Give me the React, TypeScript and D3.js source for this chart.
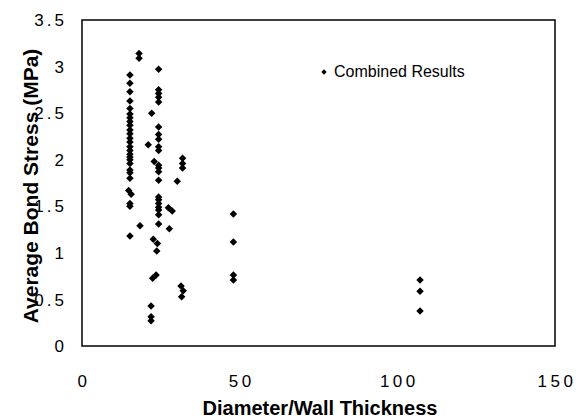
import React from "react";
import * as d3 from "d3";

const col1X = 15.2;
const col1Y = [2.91, 2.82, 2.73, 2.63, 2.55, 2.49, 2.45, 2.41, 2.37, 2.32, 2.28, 2.23, 2.19, 2.14, 2.1, 2.06, 2.03, 2.0, 1.96, 1.89, 1.86, 1.8, 1.53, 1.5, 1.18];
const col2X = 24.3;
const col2Y = [2.97, 2.75, 2.71, 2.67, 2.62, 2.35, 2.27, 2.22, 2.14, 2.1, 1.94, 1.91, 1.87, 1.78, 1.6, 1.57, 1.53, 1.49, 1.46, 1.41, 1.31];
const otherX = [14.8, 15.6, 18.1, 18.1, 18.4, 22.1, 21.0, 22.9, 22.6, 23.9, 23.7, 22.4, 23.5, 21.9, 21.9, 21.9, 31.9, 31.9, 31.9, 30.2, 27.4, 28.6, 27.7, 31.4, 32.1, 31.6, 48, 48, 48, 48, 107.2, 107.2, 107.2];
const otherY = [1.67, 1.63, 3.14, 3.09, 1.29, 2.5, 2.16, 1.98, 1.145, 1.1, 1.02, 0.727, 0.762, 0.43, 0.315, 0.27, 2.015, 1.96, 1.91, 1.77, 1.485, 1.45, 1.26, 0.644, 0.594, 0.529, 1.417, 1.117, 0.762, 0.709, 0.709, 0.587, 0.376];

const xTicks = [0, 50, 100, 150];
const yTicks = [0, 0.5, 1, 1.5, 2, 2.5, 3, 3.5];
const seriesName = "Combined Results";
const xTitle = "Diameter/Wall Thickness";
const yTitle = "Average Bond Stress (MPa)";

export default function App() {
  const W = 579, H = 419;
  const left = 82, right = 555, top = 20, bottom = 346;
  const x = d3.scaleLinear().domain([0, 150]).range([left, right]);
  const y = d3.scaleLinear().domain([0, 3.5]).range([bottom, top]);

  const points: [number, number][] = [
    ...col1Y.map((v) => [col1X, v] as [number, number]),
    ...col2Y.map((v) => [col2X, v] as [number, number]),
    ...otherX.map((v, i) => [v, otherY[i]] as [number, number]),
  ];
  const marker = d3.symbol().type(d3.symbolSquare).size(28)()!;
  const legendMarker = d3.symbol().type(d3.symbolSquare).size(14)()!;
  const font = "Liberation Sans, Arial, Helvetica, sans-serif";

  return (
    <svg width={W} height={H} style={{ position: "absolute", left: 0, top: 0, background: "#fff" }} fontFamily={font}>
      <rect x={0} y={0} width={W} height={H} fill="#fff" />
      <rect x={left} y={top} width={right - left} height={bottom - top} fill="none" stroke="#000" strokeWidth={1.5} />
      {points.map(([a, b], i) => (
        <path key={i} d={marker} transform={`translate(${x(a)},${y(b)}) rotate(45)`} fill="#000" />
      ))}
      {yTicks.map((t) => (
        <text key={t} x={67} y={y(t)} dy="0.36em" textAnchor="end" fontSize={17} letterSpacing={3} fill="#000">
          {String(t)}
        </text>
      ))}
      {xTicks.map((t) => (
        <text key={t} x={x(t) + 2} y={387} textAnchor="middle" fontSize={17} letterSpacing={3.5} fill="#000">
          {String(t)}
        </text>
      ))}
      <text x={320} y={415} textAnchor="middle" fontSize={20} fontWeight="bold" fill="#000">
        {xTitle}
      </text>
      <text transform={`translate(38,186) rotate(-90)`} textAnchor="middle" fontSize={21} fontWeight="bold" fill="#000">
        {yTitle}
      </text>
      <path d={legendMarker} transform={`translate(324,72) rotate(45)`} fill="#000" />
      <text x={334} y={77} fontSize={16} fill="#000">
        {seriesName}
      </text>
    </svg>
  );
}
